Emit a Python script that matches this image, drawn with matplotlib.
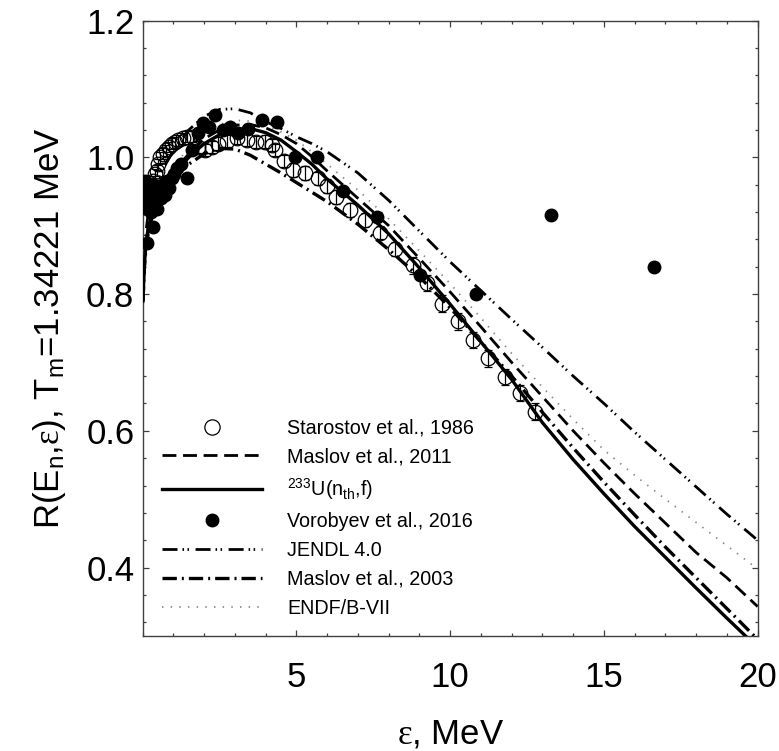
import matplotlib
matplotlib.use('Agg')
import matplotlib.pyplot as plt
from matplotlib.ticker import MultipleLocator
from matplotlib.lines import Line2D

plt.rcParams['font.family'] = ['Liberation Sans', 'DejaVu Sans']
plt.rcParams['mathtext.fontset'] = 'custom'
plt.rcParams['mathtext.rm'] = 'Liberation Sans'
plt.rcParams['mathtext.it'] = 'Liberation Sans:italic'
plt.rcParams['mathtext.sf'] = 'Liberation Serif'

# ---------------- data ----------------
eps_curve = [0.01, 0.05, 0.1, 0.2, 0.35, 0.5, 0.75, 1.0, 1.5, 2.0, 2.5, 3.0, 3.5,
             4.0, 4.5, 5.0, 5.5, 6.0, 7.0, 8.0, 9.0, 10.0, 11.0, 12.0, 13.0, 14.0,
             15.0, 16.0, 17.0, 18.0, 19.0, 20.0]
r_u233 = [0.79, 0.84, 0.87, 0.90, 0.925, 0.94, 0.96, 0.975, 1.0, 1.02, 1.033, 1.040, 1.042,
          1.036, 1.025, 1.008, 0.99, 0.968, 0.930, 0.888, 0.838, 0.785, 0.730, 0.675, 0.612, 0.558,
          0.508, 0.460, 0.415, 0.370, 0.326, 0.283]
r_maslov2011 = [0.79, 0.845, 0.875, 0.905, 0.93, 0.945, 0.965, 0.98, 1.005, 1.027, 1.040, 1.047, 1.048,
                1.043, 1.033, 1.020, 1.001, 0.980, 0.940, 0.900, 0.852, 0.803, 0.752, 0.700, 0.650, 0.600,
                0.553, 0.508, 0.465, 0.422, 0.385, 0.343]
r_maslov2003 = [0.79, 0.835, 0.865, 0.895, 0.92, 0.935, 0.955, 0.97, 0.99, 1.005, 1.013, 1.012, 1.003,
                0.990, 0.977, 0.963, 0.949, 0.935, 0.902, 0.865, 0.825, 0.780, 0.730, 0.680, 0.627, 0.575,
                0.525, 0.477, 0.430, 0.385, 0.340, 0.295]
r_endf = [0.80, 0.85, 0.88, 0.91, 0.935, 0.95, 0.97, 0.985, 1.015, 1.035, 1.048, 1.054, 1.053,
          1.046, 1.037, 1.025, 1.008, 0.990, 0.952, 0.910, 0.863, 0.815, 0.765, 0.713, 0.664, 0.617,
          0.572, 0.535, 0.500, 0.466, 0.432, 0.398]
r_jendl = [0.80, 0.855, 0.89, 0.925, 0.95, 0.965, 0.99, 1.01, 1.04, 1.06, 1.070, 1.071, 1.065,
           1.052, 1.042, 1.030, 1.020, 1.008, 0.977, 0.937, 0.892, 0.847, 0.805, 0.763, 0.722, 0.680,
           0.640, 0.598, 0.558, 0.518, 0.478, 0.440]

eps_starostov = [0.06, 0.1, 0.15, 0.2, 0.25, 0.3, 0.35, 0.4, 0.45, 0.5, 0.57, 0.65, 0.75, 0.85,
                 0.95, 1.05, 1.15, 1.3, 1.45, 1.64, 1.8, 2.03, 2.25, 2.46, 2.75, 3.06, 3.38,
                 3.7, 3.98, 4.19, 4.3, 4.6, 4.9, 5.28, 5.71, 6.0, 6.28, 6.74, 7.23, 7.72, 8.2,
                 8.8, 9.24, 9.72, 10.26, 10.75, 11.24, 11.78, 12.27, 12.76]
r_starostov = [0.935, 0.93, 0.94, 0.95, 0.955, 0.96, 0.965, 0.975, 0.98, 0.99, 1.0, 1.005, 1.01, 1.015,
               1.02, 1.022, 1.025, 1.028, 1.03, 1.03, 1.015, 1.011, 1.015, 1.020, 1.024, 1.028, 1.025,
               1.022, 1.023, 1.018, 1.011, 0.995, 0.981, 0.977, 0.969, 0.958, 0.942, 0.923, 0.908, 0.890, 0.866,
               0.842, 0.816, 0.786, 0.760, 0.733, 0.706, 0.679, 0.655, 0.628]
err_starostov = [0.008] * 20 + [0.009] * 12 + [0.01] * 9 + [0.012] * 9

eps_vorobyev = [0.03, 0.05, 0.07, 0.09, 0.11, 0.13, 0.15, 0.18, 0.21, 0.24, 0.27, 0.30, 0.34, 0.38,
                0.42, 0.47, 0.52, 0.58, 0.64, 0.71, 0.78, 0.86, 0.94, 1.03, 1.13, 1.25, 1.43, 1.6,
                1.8, 1.97, 2.15, 2.35, 2.6, 2.84, 3.1, 3.43, 3.87, 4.36, 4.95, 5.66, 6.52, 7.61,
                9.02, 10.84, 13.27, 16.63]
r_vorobyev = [0.94, 0.955, 0.93, 0.965, 0.945, 0.925, 0.875, 0.95, 0.935, 0.96, 0.92, 0.945, 0.898, 0.93,
              0.95, 0.925, 0.955, 0.94, 0.96, 0.945, 0.965, 0.955, 0.97, 0.975, 0.985, 0.99, 0.969, 1.01,
              1.035, 1.05, 1.045, 1.062, 1.04, 1.045, 1.035, 1.042, 1.054, 1.052, 1.0, 1.0, 0.95, 0.913,
              0.828, 0.80, 0.916, 0.84]

legend_labels = ['Starostov et al., 1986', 'Maslov et al., 2011', r'$^{233}$U(n$_{\mathrm{th}}$,f)',
                 'Vorobyev et al., 2016', 'JENDL 4.0', 'Maslov et al., 2003', 'ENDF/B-VII']

# ---------------- figure ----------------
fig = plt.figure(figsize=(7.79, 7.51), dpi=100)
ax = fig.add_axes([142.7 / 779, 1 - 636 / 751, 615 / 779, 615.5 / 751])

ln_endf, = ax.plot(eps_curve, r_endf, color='#8a8a8a', lw=1.3, dashes=(0.8, 4.0), zorder=2)
ln_jendl, = ax.plot(eps_curve, r_jendl, color='k', lw=2.0, dashes=(5.4, 1.8, 0.55, 1.25, 0.55, 2.35), zorder=2)
ln_m2003, = ax.plot(eps_curve, r_maslov2003, color='k', lw=2.4, dashes=(4.3, 1.5, 0.6, 1.5), zorder=2)
ln_m2011, = ax.plot(eps_curve, r_maslov2011, color='k', lw=2.0, dashes=(5.0, 2.4), zorder=2)
ln_u233, = ax.plot(eps_curve, r_u233, color='k', lw=2.4, zorder=3)

ax.errorbar(eps_starostov, r_starostov, yerr=err_starostov, fmt='o', ms=10.5, mfc='none',
            mec='k', mew=0.9, ecolor='k', elinewidth=0.9, capsize=3, capthick=0.9, zorder=4)
ax.plot(eps_vorobyev, r_vorobyev, 'o', ms=9, color='k', zorder=5)

ax.set_xlim(0, 20)
ax.set_ylim(0.3, 1.2)
ax.set_xticks([5, 10, 15, 20])
ax.set_xticklabels(['5', '10', '15', '20'])
ax.xaxis.set_minor_locator(MultipleLocator(1))
ax.set_yticks([0.4, 0.6, 0.8, 1.0, 1.2])
ax.set_yticklabels(['0.4', '0.6', '0.8', '1.0', '1.2'])
ax.yaxis.set_minor_locator(MultipleLocator(0.04))

for s in ax.spines.values():
    s.set_linewidth(1.0)
    s.set_color('#404040')
ax.tick_params(which='both', direction='in', top=True, right=True, color='#404040', width=0.9)
ax.tick_params(which='major', length=4.5, labelsize=25)
ax.tick_params(which='minor', length=2.2)
ax.tick_params(axis='x', which='major', pad=18)
ax.tick_params(axis='y', which='major', pad=6)

ax.set_xlabel(r'$\mathsf{ε}$, MeV', fontsize=25, labelpad=17)
ax.set_ylabel(r'R(E$_{\mathrm{n}}$,$\mathsf{ε}$), T$_{\mathrm{m}}$=1.34221 MeV', fontsize=25, labelpad=13)

h_star = Line2D([], [], ls='none', marker='o', ms=11, mfc='none', mec='k', mew=0.9)
h_vor = Line2D([], [], ls='none', marker='o', ms=9, color='k')
handles = [h_star, ln_m2011, ln_u233, h_vor, ln_jendl, ln_m2003, ln_endf]
ax.legend(handles, legend_labels, loc='lower left', bbox_to_anchor=(0.031, 0.03),
          borderpad=0, borderaxespad=0, handlelength=5.1, handletextpad=1.25,
          labelspacing=0.5, fontsize=14.2, frameon=False)

fig.savefig('out.png', dpi=100)
